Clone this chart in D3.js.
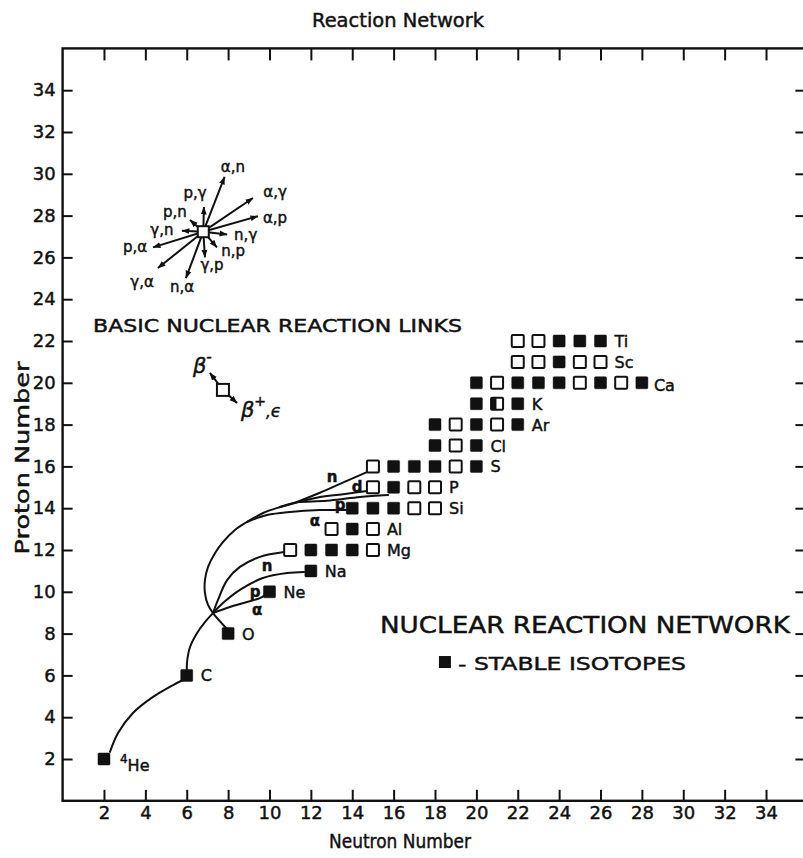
<!DOCTYPE html>
<html><head><meta charset="utf-8">
<script src="https://cdn.jsdelivr.net/npm/d3@7"></script>
<style>
body{margin:0;background:#fff;}
svg{display:block;}
text{font-family:"DejaVu Sans",sans-serif;fill:#111;stroke:#111;stroke-width:0.45px;}
</style></head><body>
<svg id="chart" width="803" height="858"></svg>
<script>
// ---------- data ----------
const neutronTicks = [2,4,6,8,10,12,14,16,18,20,22,24,26,28,30,32,34];
const protonTicks  = [2,4,6,8,10,12,14,16,18,20,22,24,26,28,30,32,34];

const elementNames = ["He","C","O","Ne","Na","Mg","Al","Si","P","S","Cl","Ar","K","Ca","Sc","Ti"];
const elementZ     = [2,6,8,10,11,12,13,14,15,16,17,18,19,20,21,22];
const firstN       = [2,6,8,10,12,11,13,14,15,15,18,18,20,20,22,22];
// F = stable (filled), O = unstable (open), H = long-lived (half filled)
const isotopeKinds = ["F","F","F","F","F","OFFFO","OFO","FFFOO","OFOO","OFFFOF","FOF","FOFOF","FHF","FOFFFOFOF","OOFOO","OOFFF"];

// reaction paths (neutron number, proton number)
const heToC   = [[2.29,2.34],[2.68,3.24],[3.40,4.20],[4.37,4.97],[5.34,5.54],[5.82,5.78]];
const cTrunk  = [[6.01,6.16],[6.01,6.59],[6.16,7.36],[6.50,8.03],[6.88,8.55],[7.27,8.98]];
const cToNe   = [[7.27,8.98],[8.09,9.27],[8.91,9.51],[9.54,9.70],[9.78,9.85]];
const cToNa   = [[7.27,8.98],[7.75,9.46],[8.57,10.09],[9.68,10.66],[10.85,10.90],[11.67,10.95]];
const cToMg   = [[7.27,8.98],[7.51,9.61],[7.95,10.56],[8.57,11.19],[9.54,11.67],[10.70,11.90]];
const oLoop   = [[7.95,8.22],[7.27,8.98],[7.03,9.37],[6.88,9.94],[6.88,10.56],[7.03,11.19],[7.37,11.86],[7.75,12.38],[8.33,12.96],[8.91,13.34],[9.69,13.77],[10.51,14.06],[11.33,14.30]];
const oToSi   = [[8.91,13.34],[9.88,13.67],[10.99,13.82],[12.44,13.91],[13.70,13.91]];
const oToP31  = [[11.33,14.30],[12.93,14.37],[14.37,14.54],[15.73,14.63]];
const oToP30  = [[10.51,14.06],[12.44,14.54],[13.65,14.68],[14.71,14.82]];
const oToS31  = [[11.33,14.30],[12.44,14.74],[13.65,15.27],[14.71,15.73]];
const pathLabels = ["n","d","p","α","n","p","α"];
const pathLabelN = [13.02,14.23,13.41,12.20,9.88,9.30,9.40];
const pathLabelZ = [15.49,15.02,14.15,13.39,11.24,9.99,9.13];

// basic reaction links inset
const linkOrigin = [6.80,27.23];
const linkLabels = ["α,n","p,γ","α,γ","α,p","n,γ","n,p","γ,p","n,α","γ,α","p,α","γ,n","p,n"];
const linkTipN   = [7.83,6.83,9.20,9.44,7.95,7.46,6.88,5.96,4.61,4.37,5.77,6.16];
const linkTipZ   = [29.85,28.41,28.84,27.97,27.10,26.48,26.01,25.01,25.49,26.48,27.27,27.79];
const linkLabelN = [8.23,6.40,10.27,10.27,8.85,8.24,7.22,5.77,3.84,3.50,4.80,5.43];
const linkLabelZ = [30.33,29.08,29.13,27.88,27.05,26.30,25.64,24.58,24.82,26.50,27.31,28.17];

// beta decay inset
const betaOrigin = [7.75,19.66];
const betaTipN = [7.12,8.43];
const betaTipZ = [20.47,19.03];

// ---------- drawing ----------
const svg = d3.select("#chart");
const x = d3.scaleLinear().domain([0,36]).range([62.6,807.4]);
const y = d3.scaleLinear().domain([0,36]).range([800.8,48.4]);
const ink = "#111";

const defs = svg.append("defs");
defs.append("marker").attr("id","arr").attr("viewBox","0 -4 9 8")
  .attr("refX",8.5).attr("refY",0).attr("markerWidth",8).attr("markerHeight",7)
  .attr("markerUnits","userSpaceOnUse").attr("orient","auto")
  .append("path").attr("d","M0,-3.4L9,0L0,3.4Z").attr("fill",ink);

// frame
svg.append("rect").attr("x",x(0)).attr("y",y(36)).attr("width",x(36)-x(0)).attr("height",y(0)-y(36))
  .attr("fill","none").attr("stroke",ink).attr("stroke-width",2.4);

function styleAxis(g){
  g.select(".domain").remove();
  g.selectAll(".tick line").attr("stroke",ink).attr("stroke-width",2);
  g.selectAll(".tick text").attr("fill",ink).style("font-size","18px").style("font-family",'"DejaVu Sans",sans-serif');
}
svg.append("g").attr("transform",`translate(0,${y(0)})`)
  .call(d3.axisBottom(x).tickValues(neutronTicks).tickSizeInner(-11).tickSizeOuter(0).tickPadding(5)).call(styleAxis);
svg.append("g").attr("transform",`translate(0,${y(36)})`)
  .call(d3.axisTop(x).tickValues(neutronTicks).tickSizeInner(-12).tickSizeOuter(0).tickFormat("")).call(styleAxis);
svg.append("g").attr("transform",`translate(${x(0)},0)`)
  .call(d3.axisLeft(y).tickValues(protonTicks).tickSizeInner(-10).tickSizeOuter(0).tickPadding(7)).call(styleAxis);
svg.append("g").attr("transform",`translate(${x(36)},0)`)
  .call(d3.axisRight(y).tickValues(protonTicks).tickSizeInner(-12).tickSizeOuter(0).tickFormat("")).call(styleAxis);

// titles
svg.append("text").attr("x",398).attr("y",27).attr("text-anchor","middle")
  .attr("textLength",172).attr("lengthAdjust","spacingAndGlyphs").style("font-size","19px").text("Reaction Network");
svg.append("text").attr("x",400).attr("y",848).attr("text-anchor","middle")
  .attr("textLength",142).attr("lengthAdjust","spacingAndGlyphs").style("font-size","19px").text("Neutron Number");
svg.append("text").attr("transform","translate(29,458) rotate(-90)").attr("text-anchor","middle")
  .attr("textLength",193).attr("lengthAdjust","spacingAndGlyphs").style("font-size","20px").text("Proton Number");

// reaction paths
const line = d3.line().x(d=>x(d[0])).y(d=>y(d[1])).curve(d3.curveCatmullRom.alpha(0.5));
const paths = [heToC,cTrunk,cToNe,cToNa,cToMg,oLoop,oToSi,oToP31,oToP30,oToS31];
svg.append("g").selectAll("path").data(paths).join("path")
  .attr("d",line).attr("fill","none").attr("stroke",ink).attr("stroke-width",2).attr("stroke-linecap","round");

svg.append("g").selectAll("text").data(pathLabels).join("text")
  .attr("x",(d,i)=>x(pathLabelN[i])).attr("y",(d,i)=>y(pathLabelZ[i]))
  .attr("text-anchor","middle").attr("dominant-baseline","central")
  .style("font-size","15px").style("font-weight","bold").text(d=>d);

// isotopes
const isotopes = [];
elementNames.forEach((name,i)=>{
  isotopeKinds[i].split("").forEach((k,j)=>isotopes.push({N:firstN[i]+j,Z:elementZ[i],kind:k}));
});
const sq = 12;
const ig = svg.append("g");
ig.selectAll("rect.iso").data(isotopes).join("rect").attr("class","iso")
  .attr("x",d=>x(d.N)-sq/2).attr("y",d=>y(d.Z)-sq/2).attr("width",sq).attr("height",sq)
  .attr("rx",1).attr("fill",d=>d.kind==="F"?ink:"#fff")
  .attr("stroke",ink).attr("stroke-width",d=>d.kind==="F"?0.5:2);
ig.selectAll("rect.half").data(isotopes.filter(d=>d.kind==="H")).join("rect").attr("class","half")
  .attr("x",d=>x(d.N)-sq/2).attr("y",d=>y(d.Z)-sq/2).attr("width",sq*0.45).attr("height",sq).attr("fill",ink);

// element labels
const lg = svg.append("g");
elementNames.forEach((name,i)=>{
  const lastN = firstN[i]+isotopeKinds[i].length-1;
  if(name==="He"){
    const t = lg.append("text").attr("x",x(lastN)+16).attr("y",y(elementZ[i])+12).style("font-size","16px");
    t.append("tspan").attr("dy",-8).style("font-size","12px").text("4");
    t.append("tspan").attr("dy",8).text("He");
  } else {
    lg.append("text").attr("x",x(lastN)+(name==="Ca"?12:14)).attr("y",y(elementZ[i])+(name==="Ca"?8:6))
      .style("font-size","16px").text(name);
  }
});

// annotations
svg.append("text").attr("x",x(15.34)).attr("y",y(8.03)).attr("textLength",410).attr("lengthAdjust","spacingAndGlyphs")
  .style("font-size","23px").text("NUCLEAR REACTION NETWORK");
svg.append("rect").attr("x",x(18.48)-6).attr("y",y(6.64)-6).attr("width",12).attr("height",12).attr("fill",ink);
svg.append("text").attr("x",x(19.11)).attr("y",y(6.26)).attr("textLength",228).attr("lengthAdjust","spacingAndGlyphs")
  .style("font-size","18px").text("- STABLE ISOTOPES");
svg.append("text").attr("x",x(1.47)).attr("y",y(22.43)).attr("textLength",369).attr("lengthAdjust","spacingAndGlyphs")
  .style("font-size","17px").text("BASIC NUCLEAR REACTION LINKS");

// link inset
const linkG = svg.append("g");
linkG.selectAll("line").data(linkLabels).join("line")
  .attr("x1",x(linkOrigin[0])).attr("y1",y(linkOrigin[1]))
  .attr("x2",(d,i)=>x(linkTipN[i])).attr("y2",(d,i)=>y(linkTipZ[i]))
  .attr("stroke",ink).attr("stroke-width",2).attr("marker-end","url(#arr)");
linkG.append("rect").attr("x",x(linkOrigin[0])-5.5).attr("y",y(linkOrigin[1])-5.5).attr("width",11).attr("height",11)
  .attr("fill","#fff").attr("stroke",ink).attr("stroke-width",2);
linkG.selectAll("text").data(linkLabels).join("text")
  .attr("x",(d,i)=>x(linkLabelN[i])).attr("y",(d,i)=>y(linkLabelZ[i]))
  .attr("text-anchor","middle").attr("dominant-baseline","central")
  .style("font-size","15px").text(d=>d);

// beta inset
const betaG = svg.append("g");
betaG.selectAll("line").data(betaTipN).join("line")
  .attr("x1",x(betaOrigin[0])).attr("y1",y(betaOrigin[1]))
  .attr("x2",(d,i)=>x(betaTipN[i])).attr("y2",(d,i)=>y(betaTipZ[i]))
  .attr("stroke",ink).attr("stroke-width",2).attr("marker-end","url(#arr)");
betaG.append("rect").attr("x",x(betaOrigin[0])-6).attr("y",y(betaOrigin[1])-6).attr("width",12).attr("height",12)
  .attr("fill","#fff").attr("stroke",ink).attr("stroke-width",2);
const bm = betaG.append("text").attr("x",x(6.30)).attr("y",y(20.45)).style("font-size","21px").style("font-style","italic");
bm.append("tspan").text("β");
bm.append("tspan").attr("dy",-11).style("font-size","15px").text("-");
const bp = betaG.append("text").attr("x",x(8.62)).attr("y",y(18.35)).style("font-size","21px").style("font-style","italic");
bp.append("tspan").text("β");
bp.append("tspan").attr("dy",-11).style("font-size","14px").text("+");
bp.append("tspan").attr("dy",11).style("font-size","15px").text(",");
bp.append("tspan").style("font-size","17px").text("ϵ");
</script>
</body></html>
